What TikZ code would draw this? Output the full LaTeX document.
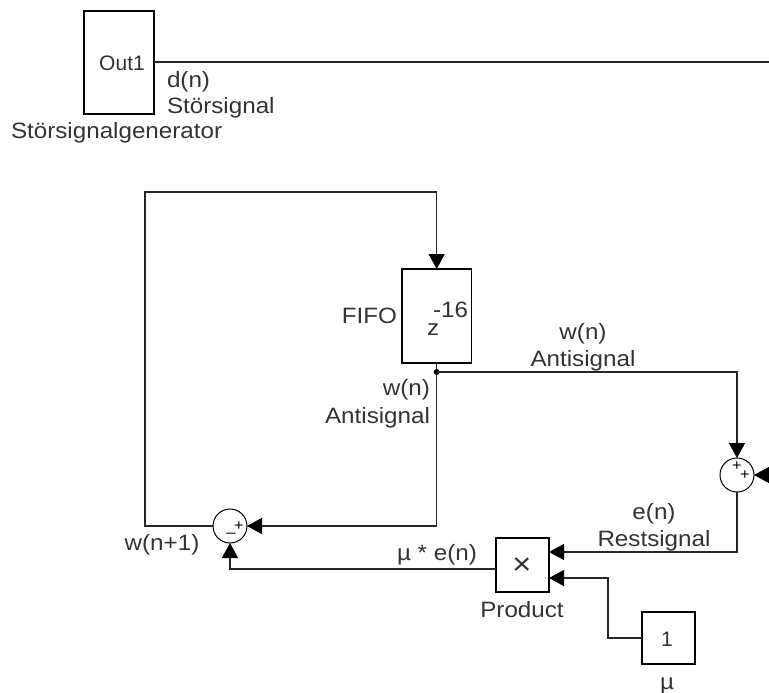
\documentclass[tikz,border=0pt]{standalone}
\usepackage{fontspec}
\setmainfont[FakeStretch=1.09]{Liberation Sans}
\newfontfamily\blockfont{Liberation Sans}
\usetikzlibrary{arrows.meta}
\tikzset{
  blockbox/.style={draw=black,line width=1.2pt,fill=white,inner sep=0pt,outer sep=0pt,minimum width=#1},
  sumnode/.style={draw=black,line width=1pt,circle,inner sep=0pt,outer sep=0pt,minimum size=34pt},
  wire/.style={draw=black!85,line width=1.3pt},
  arrowwire/.style={wire,-{Triangle[length=15pt,width=16pt,color=black]}},
  lbl/.style={inner sep=0pt,outer sep=0pt,yshift=-1.5pt,text=black!80,font=\fontsize{22.2}{26}\selectfont},
  blocklbl/.style={lbl,yshift=0pt,font=\blockfont\fontsize{21}{24}\selectfont},
  sign/.style={inner sep=0pt,outer sep=0pt,text=black,font=\fontsize{15}{15}\selectfont}
}
\begin{document}
\begin{tikzpicture}[x=1pt,y=-1pt]
\useasboundingbox (0,0) rectangle (769,693);
% blocks
\node[blockbox=70pt,minimum height=103pt] (gen) at (119,62.5) {};
\node[blockbox=69.5pt,minimum height=94pt] (fifo) at (436.7,316) {};
\node[blockbox=53pt,minimum height=54pt] (prod) at (522.5,565) {};
\node[blockbox=53pt,minimum height=52pt] (mu) at (668.5,638) {};
\node[sumnode] (s1) at (230,526) {};
\node[sumnode] (s2) at (737,475) {};
% coordinates
\coordinate (genout) at (gen.east |- 0,62);
\coordinate (rightend) at (769,62);
\coordinate (s2free) at (769,475);
\coordinate (junc) at (436.7,372);
\coordinate (fb1) at (145,526);
\coordinate (fb2) at (145,192);
\coordinate (fb3) at (fifo.north |- 0,192);
\coordinate (prodin1) at (prod.east |- 0,552);
\coordinate (prodin2) at (prod.east |- 0,578);
\coordinate (prodout) at (prod.west |- 0,569);
% wires
\draw[wire] (genout) -- (rightend);
\draw[arrowwire] (s1.west) -- (fb1) -- (fb2) -- (fb3) -- (fifo.north);
\draw[wire] (fifo.south) -- (junc);
\fill[black] (junc) circle (3pt);
\draw[arrowwire] (junc) |- (s1.east);
\draw[arrowwire] (junc) -| (s2.north);
\draw[arrowwire] (s2free) -- (s2.east);
\draw[arrowwire] (s2.south) |- (prodin1);
\draw[arrowwire] (mu.west) -- (608,638) |- (prodin2);
\draw[arrowwire] (prodout) -| (s1.south);
% labels
\node[blocklbl] (tout) at (122,62) {Out1};
\node[lbl,anchor=west] (td) at (167,80) {d(n)};
\node[lbl,anchor=west] (tst) at (167,106) {Störsignal};
\node[lbl,anchor=west] (tgen) at (11,131) {Störsignalgenerator};
\node[lbl,anchor=east] (tfifo) at (397,314) {FIFO};
\node[lbl,anchor=base west] (tz) at (427,334) {z\kern-6pt\raisebox{18pt}{-16}};
\node[lbl] (tw1) at (583,332) {w(n)};
\node[lbl] (ta1) at (583,359) {Antisignal};
\node[lbl,anchor=east] (tw2) at (430,388) {w(n)};
\node[lbl,anchor=east] (ta2) at (430,416) {Antisignal};
\node[lbl] (tw3) at (162,543) {w(n+1)};
\node[lbl] (tmue) at (437,553) {µ * e(n)};
\node[lbl] (te) at (654,512) {e(n)};
\node[lbl] (tr) at (654,539) {Restsignal};
\node[lbl] (tp) at (522,608) {Product};
\node[lbl,yshift=0pt,font=\fontsize{30}{30}\selectfont] (tx) at (522,565) {×};
\node[blocklbl] (tone) at (667,638) {1};
\node[lbl] (tmu) at (667,684) {µ};
\node[sign] at (239,526) {+};
\node[sign] at (231,535) {–};
\node[sign] at (737,466) {+};
\node[sign] at (745,475) {+};
\end{tikzpicture}
\end{document}
